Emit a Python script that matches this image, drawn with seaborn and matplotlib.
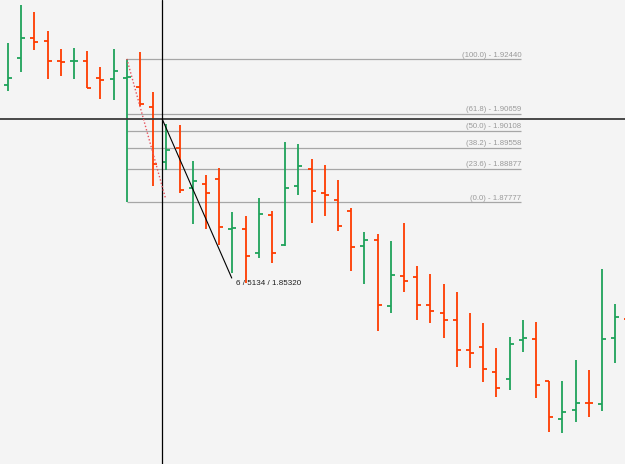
import numpy as np
import pandas as pd
import matplotlib
matplotlib.use("Agg")
import matplotlib.pyplot as plt
import seaborn as sns

# OHLC bars (price units)
opens = [1.91581, 1.92472, 1.93110, 1.93012, 1.92368, 1.92368, 1.92385, 1.91832, 1.91799, 1.91832,
         1.91539, 1.90866, 1.89100, 1.89546, 1.88232, 1.88375, 1.88547, 1.86921, 1.86921, 1.86118,
         1.87354, 1.86401, 1.88320, 1.88873, 1.88092, 1.87858, 1.87507, 1.86368, 1.86541, 1.84417,
         1.85370, 1.85351, 1.84460, 1.84180, 1.83952, 1.82986, 1.83094, 1.82281, 1.82034, 1.83312,
         1.83334, 1.81968, 1.80752, 1.81025, 1.81253, 1.81240, 1.83360, 1.83995]
highs = [1.92970, 1.94183, 1.93968, 1.93351, 1.92765, 1.92798, 1.92700, 1.92167, 1.92765, 1.92440,
         1.92655, 1.91377, 1.90336, 1.90303, 1.89110, 1.88668, 1.88905, 1.87458, 1.87344, 1.87929,
         1.87507, 1.89751, 1.89686, 1.89188, 1.88993, 1.88492, 1.87581, 1.86801, 1.86749, 1.86508,
         1.87107, 1.85695, 1.85448, 1.85123, 1.84873, 1.84190, 1.83864, 1.83051, 1.83409, 1.83962,
         1.83897, 1.81968, 1.81978, 1.82661, 1.82336, 1.85604, 1.84482, 1.84400]
lows = [1.91409, 1.92027, 1.92742, 1.91777, 1.91874, 1.91799, 1.91497, 1.91126, 1.91107, 1.87777,
        1.90921, 1.88297, 1.88840, 1.88082, 1.87074, 1.86912, 1.86401, 1.85481, 1.85165, 1.85968,
        1.85806, 1.86368, 1.88004, 1.87116, 1.87321, 1.86856, 1.85539, 1.85110, 1.83604, 1.84180,
        1.84873, 1.83962, 1.83855, 1.83377, 1.82443, 1.82401, 1.81946, 1.81448, 1.81695, 1.82912,
        1.81416, 1.80310, 1.80277, 1.80655, 1.80798, 1.81012, 1.82564, 1.83400]
closes = [1.91832, 1.93110, 1.92980, 1.92362, 1.92352, 1.92385, 1.91497, 1.91767, 1.92050, 1.91848,
          1.90970, 1.89035, 1.89474, 1.88167, 1.88460, 1.88069, 1.86964, 1.86931, 1.86021, 1.87386,
          1.86141, 1.88232, 1.88947, 1.88157, 1.88027, 1.87009, 1.86336, 1.86554, 1.84460, 1.85425,
          1.85208, 1.84460, 1.84245, 1.83952, 1.82986, 1.82873, 1.82378, 1.81760, 1.83172, 1.83386,
          1.81858, 1.80798, 1.80970, 1.81273, 1.81250, 1.83334, 1.84060, 1.83700]

# fibonacci retracement
fib_pcts = [100.0, 61.8, 50.0, 38.2, 23.6, 0.0]
fib_levels = [1.92440, 1.90659, 1.90108, 1.89558, 1.88877, 1.87777]
fib_start, fib_end = 9, 38.9

# trend line, dotted helper line and crosshair
trend_x = [11.69, 16.95]
trend_y = [1.90476, 1.85320]
dot_x = [9, 11.95]
dot_y = [1.92440, 1.87880]
cross_x, cross_y = 11.69, 1.90476
trend_label = "6 / 5134 / 1.85320"

GREEN = "#1fa35b"
RED = "#ff3c00"
BG = "#f4f4f4"

df = pd.DataFrame({"open": opens, "high": highs, "low": lows, "close": closes})
df["idx"] = np.arange(len(df))
df["color"] = np.where(df["close"] >= df["open"], GREEN, RED)

sns.set_theme(style="white", rc={"axes.facecolor": BG, "figure.facecolor": BG})
plt.rcParams["font.family"] = ["Liberation Sans", "DejaVu Sans"]

fig = plt.figure(figsize=(6.25, 4.645), dpi=100)
ax = fig.add_axes([0, 0, 1, 1])

x0, step = 8, 13.2
ax.set_xlim(-x0 / step, (625 - x0) / step)
ax.set_ylim(1.79279, 1.94368)

# fib levels
for pct, lvl in zip(fib_pcts, fib_levels):
    ax.hlines(lvl, fib_start, fib_end, color="#a6a6a6", lw=0.9, zorder=1)
    ax.annotate(f"({pct:.1f}) - {lvl:.5f}", (fib_end, lvl), xytext=(0, 0.6),
                textcoords="offset points", ha="right", va="bottom",
                fontsize=5.6, color="#9a9a9a", zorder=1)

# bars
tick = 0.3
ax.vlines(df["idx"], df["low"], df["high"], colors=df["color"], lw=1.3, zorder=3)
ax.hlines(df["open"], df["idx"] - tick, df["idx"], colors=df["color"], lw=1.3, zorder=3)
ax.hlines(df["close"], df["idx"], df["idx"] + tick, colors=df["color"], lw=1.3, zorder=3)

# crosshair
ax.axhline(cross_y, color="#3a3a3a", lw=1.3, zorder=4)
ax.axvline(cross_x, color="black", lw=0.9, zorder=4)

# trend line + dotted line
sns.lineplot(x=trend_x, y=trend_y, color="black", lw=0.8, ax=ax, zorder=5)
sns.lineplot(x=dot_x, y=dot_y, color="#e8505a", lw=1.0, ax=ax, zorder=5, linestyle=(0, (1, 1.5)))
ax.annotate(trend_label, (trend_x[1], trend_y[1]), xytext=(3, -3.5),
            textcoords="offset points", ha="left", va="center",
            fontsize=5.8, color="#1e1e1e", zorder=5)

ax.set_xticks([])
ax.set_yticks([])
for s in ax.spines.values():
    s.set_visible(False)

fig.savefig("out.png", dpi=100, facecolor=BG)
